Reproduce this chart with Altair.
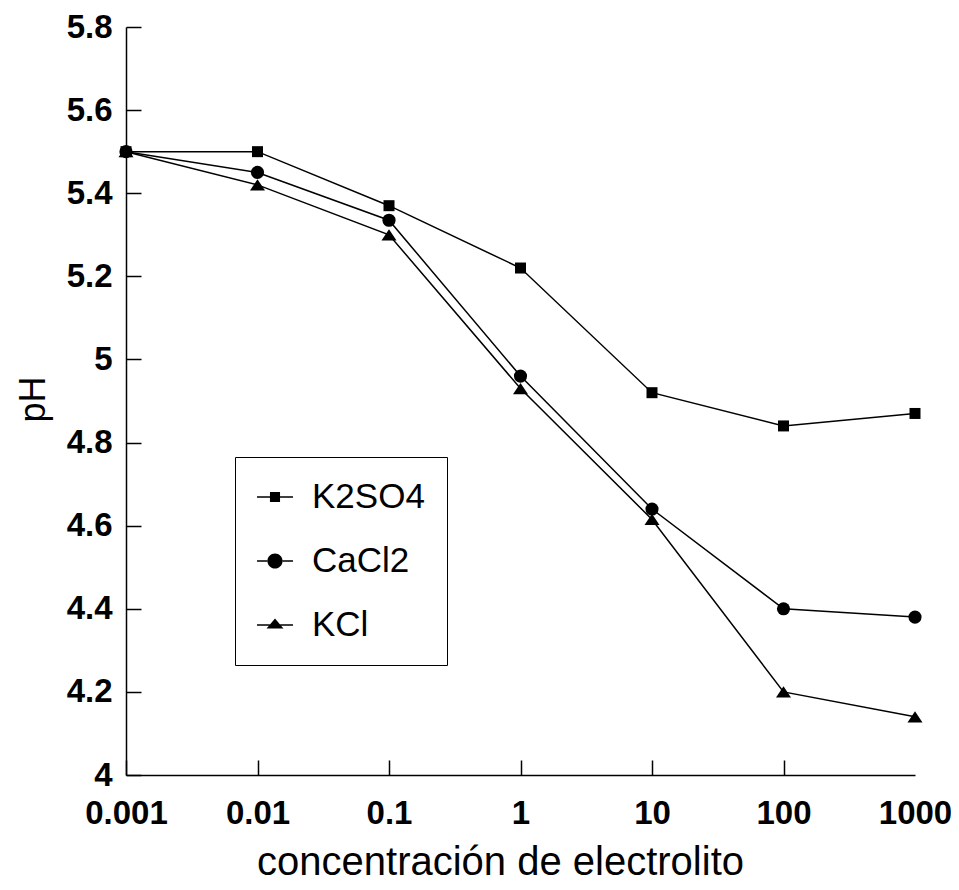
import altair as alt
import pandas as pd

# ---- data ----
conc = ["0.001", "0.01", "0.1", "1", "10", "100", "1000"]
series = ["K2SO4", "CaCl2", "KCl"]
k2so4 = [5.50, 5.50, 5.37, 5.22, 4.92, 4.84, 4.87]
cacl2 = [5.50, 5.45, 5.335, 4.96, 4.64, 4.40, 4.38]
kcl = [5.50, 5.42, 5.30, 4.93, 4.615, 4.20, 4.14]
y_ticks = [4.0, 4.2, 4.4, 4.6, 4.8, 5.0, 5.2, 5.4, 5.6, 5.8]
x_tick_values = conc[:-1]  # no tick mark drawn at the right end of the axis

rows = []
for name, vals in zip(series, [k2so4, cacl2, kcl]):
    for c, v in zip(conc, vals):
        rows.append({"conc": c, "pH": v, "serie": name})
df = pd.DataFrame(rows)

FONT = "Liberation Sans"
TOP = 19
W, H = 789, 767 - TOP

# marker shapes for the data points
tri_path = "M0,-0.75L1,0.75L-1,0.75Z"
point_shapes = ["square", "circle", tri_path]
point_sizes = [121, 225, 256]

# legend symbols: short line (thin filled bars) with the marker on it
legend_paths = [
    "M-1,-0.042H-0.27V0.042H-1Z M0.27,-0.042H1V0.042H0.27Z M-0.28,-0.28H0.28V0.28H-0.28Z",
    "M-1,-0.042H-0.41V0.042H-1Z M0.41,-0.042H1V0.042H0.41Z "
    "M-0.42,0A0.42,0.42,0,1,0,0.42,0A0.42,0.42,0,1,0,-0.42,0Z",
    "M-1,-0.042H-0.29V0.042H-1Z M0.29,-0.042H1V0.042H0.29Z M0,-0.36L0.47,0.2L-0.47,0.2Z",
]

xscale = alt.Scale(type="point", padding=0, domain=conc)
yscale = alt.Scale(domain=[4, 5.8], nice=False, zero=False)

# main axes (labels, titles, domain lines)
x_main = alt.X(
    "conc:N",
    scale=xscale,
    axis=alt.Axis(
        title="concentración de electrolito",
        titleFont=FONT,
        titleFontSize=40,
        titleFontWeight="normal",
        titleColor="black",
        titleX=374,
        titleY=99,
        titleAlign="center",
        titleBaseline="alphabetic",
        labelAngle=0,
        labelFont=FONT,
        labelFontSize=33,
        labelFontWeight="bold",
        labelColor="black",
        labelPadding=22,
        ticks=False,
        domainColor="black",
        domainWidth=1.5,
        grid=False,
    ),
)
y_main = alt.Y(
    "pH:Q",
    scale=yscale,
    axis=alt.Axis(
        title="pH",
        values=y_ticks,
        format="~g",
        titleFont=FONT,
        titleFontSize=36,
        titleFontWeight="normal",
        titleColor="black",
        titleAngle=270,
        titleX=-93,
        titleY=399 - 8 - TOP,
        titleAlign="center",
        titleBaseline="middle",
        labelFont=FONT,
        labelFontSize=33,
        labelFontWeight="bold",
        labelColor="black",
        labelPadding=14,
        ticks=False,
        domainColor="black",
        domainWidth=1.5,
        grid=False,
    ),
)

# inward-pointing ticks: opposite-side axes moved onto the plot edges
x_ticks = alt.X(
    "conc:N",
    scale=xscale,
    axis=alt.Axis(
        orient="top", offset=-H, values=x_tick_values, title=None, labels=False,
        domain=False, grid=False, ticks=True, tickSize=15, tickColor="black", tickWidth=1.5,
    ),
)
y_ticks_enc = alt.Y(
    "pH:Q",
    scale=yscale,
    axis=alt.Axis(
        orient="right", offset=-W, values=y_ticks, title=None, labels=False, domain=False,
        grid=False, ticks=True, tickSize=15, tickColor="black", tickWidth=1.5,
    ),
)

x_none = alt.X("conc:N", scale=xscale, axis=None)
y_none = alt.Y("pH:Q", scale=yscale, axis=None)

lines = alt.Chart(df).mark_line(color="black", strokeWidth=1.5).encode(
    x=x_main, y=y_main, detail="serie:N"
)

points = alt.Chart(df).mark_point(filled=True, color="black", opacity=1).encode(
    x=x_none,
    y=y_none,
    shape=alt.Shape("serie:N", scale=alt.Scale(domain=series, range=point_shapes), legend=None),
    size=alt.Size("serie:N", scale=alt.Scale(domain=series, range=point_sizes), legend=None),
)

legend_layer = alt.Chart(df).mark_point(
    filled=True, color="black", opacity=0
).encode(
    x=x_ticks,
    y=y_ticks_enc,
    shape=alt.Shape(
        "serie:N",
        scale=alt.Scale(domain=series, range=legend_paths),
        legend=alt.Legend(
            title=None,
            orient="none",
            legendX=235 - 126,
            legendY=457 - 8 - TOP,
            direction="vertical",
            padding=22,
            rowPadding=28,
            symbolSize=1296,
            symbolStrokeWidth=0,
            symbolFillColor="black",
            symbolOpacity=1,
            labelFont=FONT,
            labelFontSize=35,
            labelColor="black",
            labelOffset=19,
            strokeColor="black",
        ),
    ),
)

chart = (
    alt.layer(lines, points, legend_layer)
    .resolve_scale(shape="independent")
    .resolve_axis(x="independent", y="independent")
    .properties(
        width=W,
        height=H,
        autosize=alt.AutoSizeParams(type="none"),
        padding={"left": 118, "top": TOP, "right": 36, "bottom": 107},
        background="white",
    )
    .configure_view(stroke=None)
)

chart.save("out.html", embed_options={"renderer": "svg", "actions": False})
